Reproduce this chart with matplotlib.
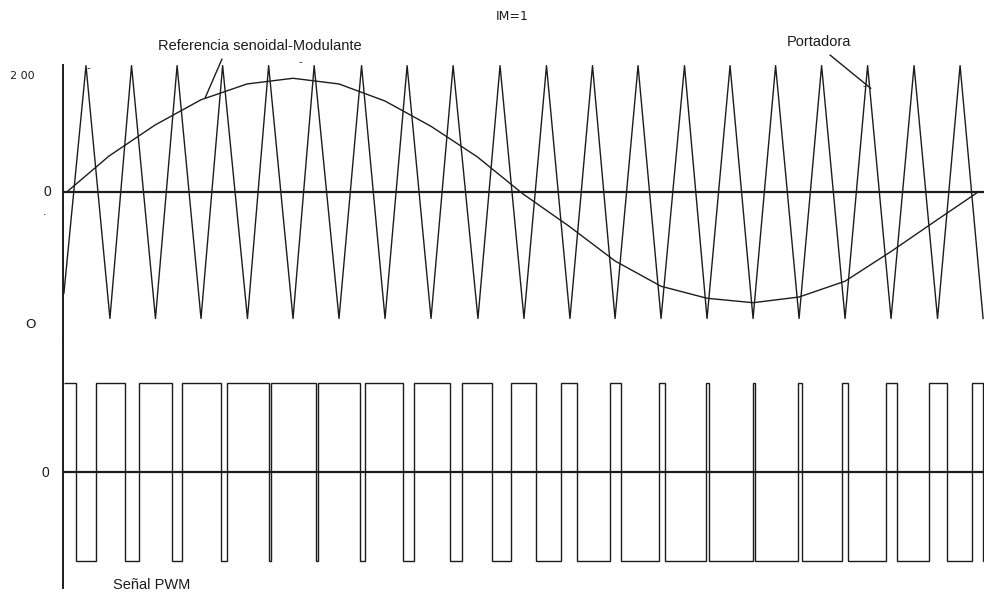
import numpy as np
import matplotlib as mpl
mpl.use("Agg")
import matplotlib.pyplot as plt


# DATA (time in carrier periods, top panel in volts, PWM normalised)
CARRIER_START = (0.02, -160)
CARRIER_PEAK_T = [0.50, 1.49, 2.48, 3.47, 4.47, 5.46, 6.49, 7.48, 8.48, 9.50,
                  10.51, 11.51, 12.50, 13.51, 14.50, 15.49, 16.49, 17.49,
                  18.50, 19.50]
CARRIER_TROUGH_T = [1.02, 2.01, 3.00, 4.01, 5.00, 6.00, 7.00, 8.00, 9.02,
                    10.02, 11.02, 12.00, 13.00, 14.00, 15.00, 16.00, 17.00,
                    18.00, 19.01, 20.00]
CARRIER_HI = 200
CARRIER_LO = -200

SINE_T = [0.08, 1.0, 2.0, 3.0, 4.0, 5.0, 6.0, 7.0, 8.0, 9.0, 10.0, 11.0,
          12.0, 13.0, 14.0, 15.0, 16.0, 17.0, 18.0, 19.0, 19.89]
SINE_V = [0, 57, 106, 146, 171, 180, 171, 144, 104, 56, -3, -54, -109,
          -149, -168, -175, -166, -141, -94, -44, 0]

PWM_EDGES = [0.02, 0.28, 0.71, 1.35, 1.65, 2.38, 2.58, 3.43, 3.57, 4.47,
             4.52, 5.50, 5.55, 6.46, 6.57, 7.40, 7.62, 8.41, 8.67, 9.32,
             9.74, 10.28, 10.83, 11.17, 11.88, 12.13, 12.96, 13.09, 13.97,
             14.04, 15.00, 15.04, 15.98, 16.07, 16.93, 17.07, 17.90, 18.12,
             18.83, 19.21, 19.77, 20.00, 20.02]
PWM_HI = 1
PWM_LO = -1

INK = "#1c1c1c"
FIG_W, FIG_H = 984, 596


def fig_px(x, y):
    """Utility - top-left pixel position to figure fraction"""
    return x / FIG_W, 1 - y / FIG_H


def carrier_points():
    """Interleave carrier vertices into one polyline"""
    t = [CARRIER_START[0]]
    v = [CARRIER_START[1]]
    for tp, tt in zip(CARRIER_PEAK_T, CARRIER_TROUGH_T):
        t += [tp, tt]
        v += [CARRIER_HI, CARRIER_LO]
    return t, v


def clean_axis(ax):
    """Only the left spine, no ticks"""
    for side in ["top", "right", "bottom"]:
        ax.spines[side].set_visible(False)
    ax.spines["left"].set_linewidth(1.4)
    ax.spines["left"].set_color(INK)
    ax.set_xticks([])
    ax.set_yticks([])
    ax.patch.set_alpha(0)


plt.rcParams["font.family"] = ["Liberation Sans", "DejaVu Sans"]

fig = plt.figure(figsize=(9.84, 5.96), dpi=100)
ax_top = fig.add_axes([63 / FIG_W, (FIG_H - 340) / FIG_H,
                       921 / FIG_W, 275 / FIG_H])
ax_bot = fig.add_axes([63 / FIG_W, (FIG_H - 588) / FIG_H,
                       921 / FIG_W, 248 / FIG_H])

# Carrier + modulating reference
ct, cv = carrier_points()
ax_top.plot(ct, cv, color=INK, lw=1.0, clip_on=False)
ax_top.plot(SINE_T, SINE_V, color=INK, lw=1.0)
ax_top.axhline(0, color=INK, lw=1.6)
ax_top.set(xlim=(0, 20.02), ylim=(-234, 201))
clean_axis(ax_top)

# PWM output
levels = [PWM_HI if i % 2 == 0 else PWM_LO
          for i in range(len(PWM_EDGES) - 1)]
ax_bot.stairs(levels, PWM_EDGES, baseline=None, color=INK, lw=1.0)
ax_bot.axhline(0, color=INK, lw=1.6)
ax_bot.set(xlim=(0, 20.02), ylim=(-1.303, 1.483))
clean_axis(ax_bot)

# Annotation leaders
ax_top.annotate("", xy=(3.09, 149), xytext=(222, FIG_H - 59),
                textcoords="figure pixels",
                arrowprops=dict(arrowstyle="-", lw=1.0, color=INK,
                                shrinkA=0, shrinkB=0))
ax_top.annotate("", xy=(17.56, 164), xytext=(830, FIG_H - 55),
                textcoords="figure pixels",
                arrowprops=dict(arrowstyle="-", lw=1.0, color=INK,
                                shrinkA=0, shrinkB=0))

# Labels
fig.text(*fig_px(260, 46), "Referencia senoidal-Modulante", fontsize=10.5,
         ha="center", va="center", color=INK)
fig.text(*fig_px(819, 42), "Portadora", fontsize=10.5,
         ha="center", va="center", color=INK)
fig.text(*fig_px(152, 585), "Señal PWM", fontsize=10.5,
         ha="center", va="center", color=INK)
fig.text(*fig_px(512, 16), "IM=1", fontsize=9, ha="center", va="center",
         color=INK, family="DejaVu Sans")
fig.text(*fig_px(22, 76), "2 00", fontsize=8, ha="center", va="center",
         color=INK, family="DejaVu Sans")
fig.text(*fig_px(47, 192), "0", fontsize=10, ha="center", va="center",
         color=INK)
fig.text(*fig_px(45, 212), ".", fontsize=9, ha="center", va="center",
         color=INK)
fig.text(*fig_px(31, 325), "O", fontsize=9.5, ha="center", va="center",
         color=INK, family="DejaVu Sans")
fig.text(*fig_px(45, 473), "0", fontsize=10, ha="center", va="center",
         color=INK)
# small pen marks from the scan
fig.text(*fig_px(88, 68), "-", fontsize=8, ha="center", va="center",
         color=INK)
fig.text(*fig_px(300, 62), "-", fontsize=8, ha="center", va="center",
         color=INK)
fig.text(*fig_px(864, 86), "-", fontsize=8, ha="center", va="center",
         color=INK)

fig.savefig("out.png", dpi=100, facecolor="white")
